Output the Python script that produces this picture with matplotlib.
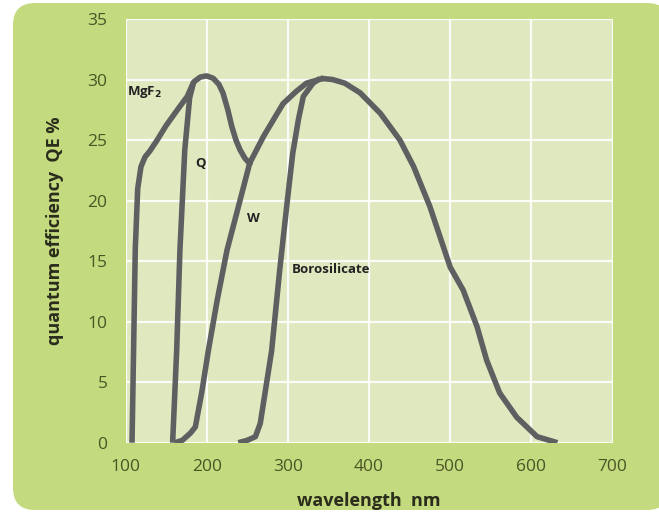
import matplotlib.pyplot as plt
from matplotlib.patches import FancyBboxPatch

# photocathode QE curves for the different window materials (nm, %)
mgf2_wl = [108, 110, 112, 115, 119, 124, 130, 139, 150, 165, 176, 184, 192, 200, 208, 215, 220, 226, 231, 236, 241, 247, 251, 257]
mgf2_qe = [0, 8, 16, 21, 22.8, 23.6, 24.1, 25.0, 26.2, 27.6, 28.6, 29.8, 30.2, 30.3, 30.1, 29.6, 28.9, 27.5, 26.1, 25.0, 24.2, 23.5, 23.2, 23.2]

q_wl = [158, 163, 167, 173, 179, 184]
q_qe = [0, 7.6, 15.9, 24.2, 28.5, 29.8]

w_wl = [161, 170, 180, 186, 194, 202, 213, 225, 241, 253, 270, 294, 310, 323, 344]
w_qe = [0, 0.2, 0.8, 1.3, 4.2, 7.6, 11.8, 15.9, 20.0, 23.1, 25.3, 28.0, 29.0, 29.7, 30.1]

boro_wl = [239, 250, 260, 266, 280, 290, 299, 306, 313, 319, 331, 340]
boro_qe = [0, 0.2, 0.5, 1.6, 7.6, 14.3, 19.8, 23.9, 26.7, 28.6, 29.7, 30.1]

tail_wl = [340, 355, 370, 389, 414, 438, 455, 475, 490, 500, 516, 533, 545, 561, 582, 607, 632]
tail_qe = [30.1, 30.0, 29.7, 28.9, 27.2, 25.0, 22.8, 19.5, 16.5, 14.5, 12.6, 9.6, 6.8, 4.1, 2.1, 0.5, 0]

x_ticks = [100, 200, 300, 400, 500, 600, 700]
y_ticks = [0, 5, 10, 15, 20, 25, 30, 35]

outer_green = '#c4da7e'
inner_green = '#dfe8bf'
curve_grey = '#5e5f61'
tick_color = '#4a5526'
label_color = '#2a2c1c'

fig = plt.figure(figsize=(6.59, 5.13), dpi=100)
fig.patch.set_facecolor('white')

# green card behind the plot
card = FancyBboxPatch((0.13, 0.03), 6.56, 5.07,
                      boxstyle='round,pad=0,rounding_size=0.22',
                      transform=fig.dpi_scale_trans,
                      facecolor=outer_green, edgecolor='none', zorder=-5)
fig.add_artist(card)

ax = fig.add_axes([0.1905, 0.137, 0.739, 0.826])
ax.set_facecolor(inner_green)
for s in ax.spines.values():
    s.set_visible(False)

for wl, qe in [(mgf2_wl, mgf2_qe), (q_wl, q_qe), (w_wl, w_qe),
               (boro_wl, boro_qe), (tail_wl, tail_qe)]:
    ax.plot(wl, qe, color=curve_grey, linewidth=4.0,
            solid_joinstyle='round', solid_capstyle='butt', zorder=3)

ax.set_xlim(100, 700)
ax.set_ylim(0, 35)
ax.set_xticks(x_ticks)
ax.set_yticks(y_ticks)
ax.grid(True, color='white', linewidth=1.6, alpha=0.9)
ax.set_axisbelow(True)
ax.tick_params(length=0, labelsize=12.5, colors=tick_color)
ax.tick_params(axis='y', pad=13)
ax.tick_params(axis='x', pad=12)
for lbl in ax.get_xticklabels() + ax.get_yticklabels():
    lbl.set_family('Open Sans')

ax.set_xlabel('wavelength  nm', fontsize=13, fontweight='bold',
              color=label_color, family='Open Sans', labelpad=12)
ax.set_ylabel('quantum efficiency  QE %', fontsize=13, fontweight='bold',
              color=label_color, family='Open Sans', labelpad=17)

txt = dict(fontsize=9.5, fontweight='bold', color='#222222', family='Open Sans')
ax.text(102, 29.0, 'MgF$_\\mathbf{2}$', ha='left', va='center', **txt)
ax.text(192, 23.1, 'Q', ha='center', va='center', **txt)
ax.text(258, 18.5, 'W', ha='center', va='center', **txt)
ax.text(305, 14.3, 'Borosilicate', ha='left', va='center', **txt)

fig.savefig('out.png', dpi=100, facecolor=fig.get_facecolor())
